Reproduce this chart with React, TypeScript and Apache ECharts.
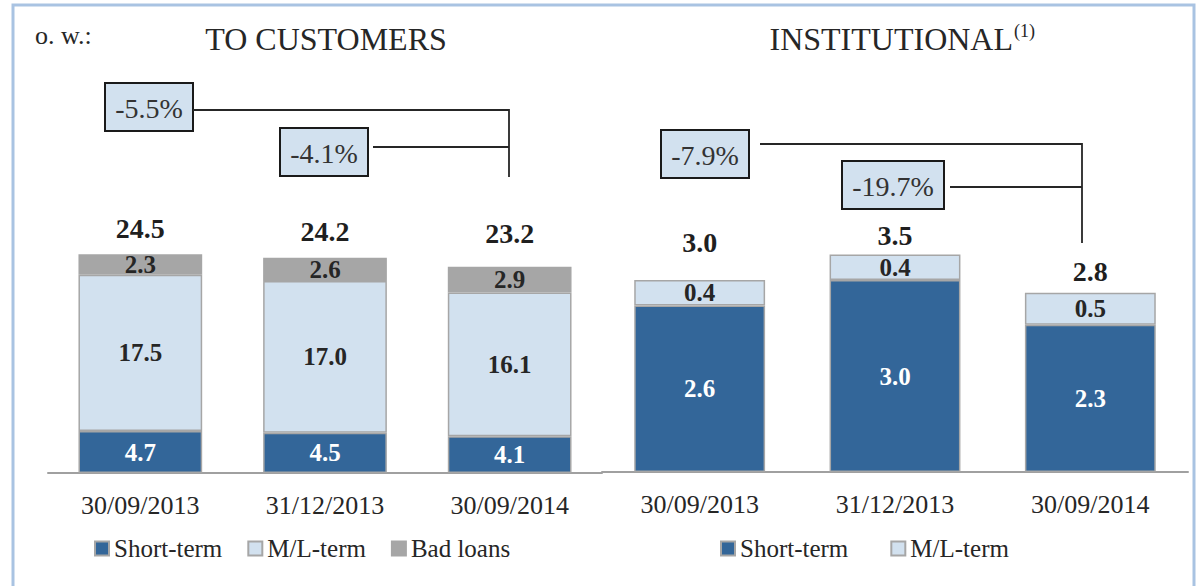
import React, { useEffect, useRef } from "react";
import * as echarts from "echarts";

const categories = ["30/09/2013", "31/12/2013", "30/09/2014"];
const custShort = [4.7, 4.5, 4.1];
const custML = [17.5, 17.0, 16.1];
const custBad = [2.3, 2.6, 2.9];
const custTotals = [24.5, 24.2, 23.2];
const instShort = [2.6, 3.0, 2.3];
const instML = [0.4, 0.4, 0.5];
const instTotals = [3.0, 3.5, 2.8];
const custChanges = ["-5.5%", "-4.1%"];
const instChanges = ["-7.9%", "-19.7%"];

const FONT = "Liberation Serif";
const DARK = "#336699";
const LIGHT = "#D2E1EF";
const GREY = "#A6A6A6";
const BORDER = "#A6A6A6";

// label lift (px) of the total labels above stack tops
const custLift = [26, 26, 33];
const instLift = [38, 19, 21];

function segLabel(color: string) {
  return {
    show: true,
    position: "inside",
    color,
    fontFamily: FONT,
    fontWeight: "bold",
    fontSize: 25,
    formatter: (p: any) => Number(p.value).toFixed(1),
  };
}

function barSeries(name: string, data: number[], color: string, labelColor: string, axis: number, stack: string) {
  return {
    type: "bar",
    name,
    data,
    stack,
    xAxisIndex: axis,
    yAxisIndex: axis,
    barWidth: "67%",
    itemStyle: { color, borderColor: BORDER, borderWidth: 1.5 },
    label: segLabel(labelColor),
    silent: true,
  };
}

function totalSeries(sums: number[], labels: number[], lift: number[], axis: number) {
  return {
    type: "scatter",
    name: "total" + axis,
    xAxisIndex: axis,
    yAxisIndex: axis,
    symbolSize: 0,
    itemStyle: { color: "#1f1f1f", opacity: 1 },
    silent: true,
    data: sums.map((v, i) => ({
      value: v,
      label: {
        show: true,
        position: "inside",
        offset: [0, -lift[i]],
        formatter: labels[i].toFixed(1),
        color: "#1f1f1f",
        opacity: 1,
        fontFamily: FONT,
        fontWeight: "bold",
        fontSize: 28,
      },
    })),
  };
}

function txt(text: string, x: number, y: number, size: number, align = "center", extra: any = {}) {
  return {
    type: "text",
    x,
    y,
    silent: true,
    style: {
      text,
      fill: "#262626",
      fontFamily: FONT,
      fontSize: size,
      align,
      textAlign: align,
      verticalAlign: "middle",
      textVerticalAlign: "middle",
      ...extra,
    },
  };
}

function box(label: string, x: number, y: number, w: number, h: number) {
  return [
    {
      type: "rect",
      silent: true,
      shape: { x, y, width: w, height: h },
      style: { fill: LIGHT, stroke: "#1a1a1a", lineWidth: 2 },
    },
    txt(label, x + w / 2, y + h / 2 + 1, 28, "center", { fill: "#333" }),
  ];
}

function pline(points: number[][]) {
  return {
    type: "polyline",
    silent: true,
    shape: { points },
    style: { stroke: "#262626", lineWidth: 1.8, fill: null },
  };
}

export default function App() {
  const ref = useRef<HTMLDivElement>(null);
  useEffect(() => {
    if (!ref.current) return;
    const chart = echarts.init(ref.current, null, { renderer: "svg" });
    const custSums = custShort.map((v, i) => v + custML[i] + custBad[i]);
    const instSums = instShort.map((v, i) => v + instML[i]);
    const xAxisCommon = {
      type: "category",
      data: categories,
      axisTick: { show: false },
      axisLine: { lineStyle: { color: "#A0A0A0", width: 2 } },
      axisLabel: { color: "#262626", fontFamily: FONT, fontSize: 26, margin: 19 },
    };
    const legendCommon = {
      orient: "horizontal",
      icon: "rect",
      itemWidth: 14,
      itemHeight: 14,
      selectedMode: false,
      textStyle: { color: "#262626", fontFamily: FONT, fontSize: 25, padding: [0, 0, 0, 0] },
    };
    chart.setOption({
      animation: false,
      backgroundColor: "#ffffff",
      grid: [
        { left: 48, width: 554, top: 205, height: 268 },
        { left: 602, width: 586, top: 216, height: 256 },
      ],
      xAxis: [
        { ...xAxisCommon, gridIndex: 0 },
        { ...xAxisCommon, gridIndex: 1 },
      ],
      yAxis: [
        { type: "value", gridIndex: 0, min: 0, max: 30, show: false },
        { type: "value", gridIndex: 1, min: 0, max: 4, show: false },
      ],
      legend: [
        { ...legendCommon, left: 89, top: 531, itemGap: 25, data: ["Short-term", "M/L-term", "Bad loans"] },
        { ...legendCommon, left: 715, top: 531, itemGap: 42, data: ["Short-term", "M/L-term"] },
      ],
      series: [
        barSeries("Short-term", custShort, DARK, "#ffffff", 0, "c"),
        barSeries("M/L-term", custML, LIGHT, "#262626", 0, "c"),
        barSeries("Bad loans", custBad, GREY, "#262626", 0, "c"),
        totalSeries(custSums, custTotals, custLift, 0),
        barSeries("Short-term", instShort, DARK, "#ffffff", 1, "i"),
        barSeries("M/L-term", instML, LIGHT, "#262626", 1, "i"),
        totalSeries(instSums, instTotals, instLift, 1),
      ],
      graphic: [
        {
          type: "polyline",
          silent: true,
          shape: { points: [[13, 590], [13, 5], [1194, 5], [1194, 590]] },
          style: { stroke: "#A9C3E2", lineWidth: 3, fill: null },
        },
        txt("o. w.:", 35, 35, 26, "left"),
        txt("TO CUSTOMERS", 326, 39, 32),
        txt("INSTITUTIONAL", 1013, 39, 32, "right"),
        txt("(1)", 1014, 31, 18, "left"),
        ...box(custChanges[0], 105, 83, 88, 48),
        pline([[193, 110], [509, 110], [509, 177]]),
        ...box(custChanges[1], 280, 128, 88, 48),
        pline([[373, 147], [509, 147]]),
        ...box(instChanges[0], 661, 130, 88, 48),
        pline([[760, 144], [1082, 144], [1082, 243]]),
        ...box(instChanges[1], 842, 161, 102, 48),
        pline([[950, 187], [1082, 187]]),
      ],
    });
    return () => chart.dispose();
  }, []);
  return (
    <div
      ref={ref}
      style={{ position: "fixed", left: 0, top: 0, width: 1196, height: 586, background: "#fff" }}
    />
  );
}
